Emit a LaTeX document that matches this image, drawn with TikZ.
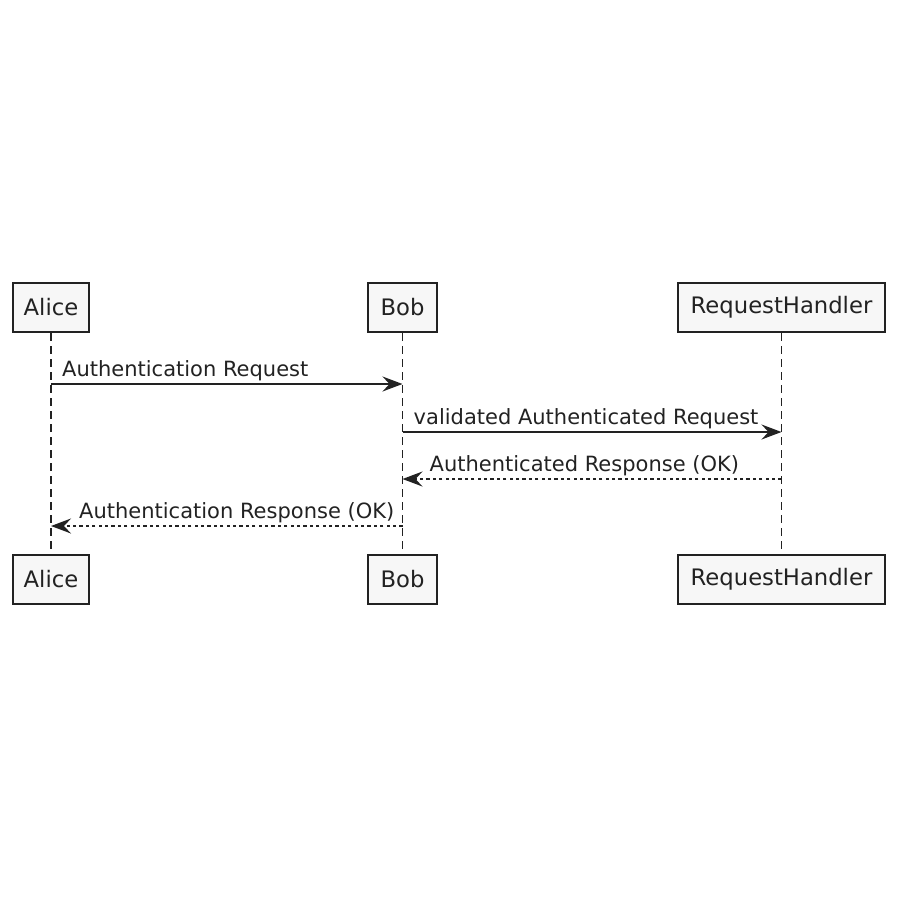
\documentclass[tikz,border=0pt]{standalone}
\usepackage{fontspec}
\setmainfont{DejaVu Sans}
\usetikzlibrary{arrows.meta,calc,positioning}

\definecolor{linegray}{HTML}{222222}
\definecolor{boxfill}{HTML}{F7F7F7}

\tikzset{
    actor/.style={draw=linegray, fill=boxfill, line width=2.2pt, minimum height=49pt,
        inner xsep=10pt, text=linegray, font=\fontsize{22.7}{27}\selectfont},
    lifeline/.style={draw=linegray, line width=1.7pt, dash pattern=on 8pt off 5pt},
    msg/.style={draw=linegray, line width=1.8pt, -{Stealth[length=20pt,width=15pt,inset=7pt]}},
    reply/.style={msg, dash pattern=on 3.2pt off 3.2pt},
    msglabel/.style={inner sep=0pt, anchor=base west, text=linegray, font=\fontsize{21}{25}\selectfont}
}

\begin{document}
\begin{tikzpicture}[x=1pt,y=-1pt]
    \useasboundingbox (0,0) rectangle (900,900);

    \node[actor, minimum width=76pt] (alice) at (51,307.5) {Alice};
    \node[actor, minimum width=69pt] (bob) at (402.5,307.5) {Bob};
    \node[actor, minimum width=207pt] (handler) at (781.5,307.5) {RequestHandler};
    \node[actor, minimum width=76pt] (alice2) at (51,579.5) {Alice};
    \node[actor, minimum width=69pt] (bob2) at (402.5,579.5) {Bob};
    \node[actor, minimum width=207pt] (handler2) at (781.5,579.5) {RequestHandler};

    \foreach \p in {alice,bob,handler} {
        \draw[lifeline] (\p.south) -- (\p2.north);
    }

    \coordinate (a1) at (alice |- 0,384);
    \coordinate (b1) at (bob |- 0,384);
    \coordinate (b2) at (bob |- 0,432);
    \coordinate (h2) at (handler |- 0,432);
    \coordinate (h3) at (handler |- 0,479);
    \coordinate (b3) at (bob |- 0,479);
    \coordinate (b4) at (bob |- 0,526);
    \coordinate (a4) at (alice |- 0,526);

    \draw[msg] (a1) -- (b1);
    \draw[msg] (b2) -- (h2);
    \draw[reply] (h3) -- (b3);
    \draw[reply] (b4) -- (a4);

    \node[msglabel] (l1) at ($(a1)+(11,-8)$) {Authentication Request};
    \node[msglabel] (l2) at ($(b2)+(11,-8)$) {validated Authenticated Request};
    \node[msglabel] (l3) at ($(b3)+(27,-8)$) {Authenticated Response (OK)};
    \node[msglabel] (l4) at ($(a4)+(28,-8)$) {Authentication Response (OK)};
\end{tikzpicture}
\end{document}
